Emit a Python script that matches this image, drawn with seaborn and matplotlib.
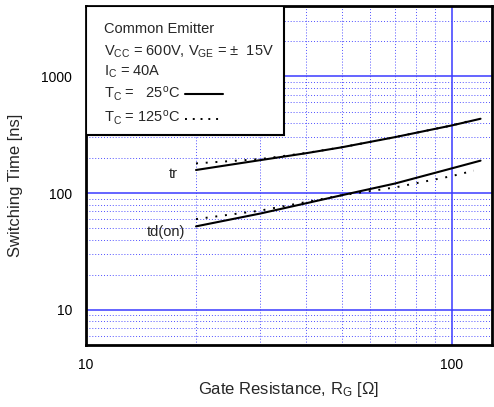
import numpy as np
import pandas as pd
import seaborn as sns
import matplotlib.pyplot as plt
from matplotlib.patches import Rectangle

# Data (gate resistance in ohm, times in ns)
rg_25 = [20, 30, 40, 50, 70, 100, 120]
tr_25 = [158, 192, 220, 247, 302, 380, 434]
td_25 = [52, 67, 82, 96, 121, 163, 190]

rg_125 = [20, 30, 40, 50, 70, 100, 115]
tr_125 = [180, 196, 221, 247, 302, 380, 425]
td_125 = [60, 71, 84, 96, 112, 140, 156]

sns.set_style("white")
plt.rcParams["font.family"] = ["Liberation Sans", "DejaVu Sans"]
plt.rcParams["mathtext.fontset"] = "custom"
plt.rcParams["mathtext.rm"] = "Liberation Sans"
plt.rcParams["mathtext.default"] = "regular"

df = pd.concat([
    pd.DataFrame({"Rg": rg_25, "t": tr_25, "curve": "tr 25"}),
    pd.DataFrame({"Rg": rg_25, "t": td_25, "curve": "td 25"}),
    pd.DataFrame({"Rg": rg_125, "t": tr_125, "curve": "tr 125"}),
    pd.DataFrame({"Rg": rg_125, "t": td_125, "curve": "td 125"}),
])

fig = plt.figure(figsize=(4.94, 4.07), dpi=100)
ax = fig.add_axes([0.174, 0.152, 0.822, 0.833])
ax.set_xscale("log")
ax.set_yscale("log")
ax.set_xlim(10, 129)
ax.set_ylim(5, 4000)

# grid: solid major, dotted minor
ax.grid(which="major", color="#3a3aff", linestyle="-", linewidth=1.1)
ax.grid(which="minor", color="#5050ff", linestyle=(0, (1, 2)), linewidth=0.7)
ax.set_axisbelow(True)

for c in ["tr 25", "td 25"]:
    sns.lineplot(data=df[df.curve == c], x="Rg", y="t", color="black",
                 linewidth=1.5, ax=ax, zorder=3)
for c in ["tr 125", "td 125"]:
    sns.lineplot(data=df[df.curve == c], x="Rg", y="t", color="black",
                 linewidth=1.4, linestyle=(0, (1, 4)), ax=ax, zorder=3)

ax.set_xticks([10, 100])
ax.set_xticklabels(["10", "100"])
ax.set_yticks([10, 100, 1000])
ax.set_yticklabels(["10", "100", "1000"])
ax.minorticks_on()
ax.tick_params(axis="both", which="both", direction="in", labelsize=10,
               length=3, colors="black")
ax.tick_params(axis="x", which="major", pad=9)
ax.tick_params(axis="y", which="major", pad=10)
ax.tick_params(which="minor", labelbottom=False, labelleft=False)

for s in ax.spines.values():
    s.set_color("black")
    s.set_linewidth(2)

ax.set_xlabel("Gate Resistance, R$_G$ [Ω]", fontsize=12)
ax.set_ylabel("Switching Time [ns]", fontsize=12)
ax.xaxis.set_label_coords(0.498, -0.104)
ax.yaxis.set_label_coords(-0.155, 0.47)

# curve labels
ax.text(0.215, 0.505, "tr", transform=ax.transAxes, fontsize=10.5, ha="center", va="center")
ax.text(0.198, 0.335, "td(on)", transform=ax.transAxes, fontsize=10.5, ha="center", va="center")

# condition box
ax.add_patch(Rectangle((0, 0.619), 0.488, 0.381, transform=ax.transAxes,
                       facecolor="white", edgecolor="black", linewidth=1.5, zorder=4))
tx = 0.044
fs = 10.5
ax.text(tx, 0.932, "Common Emitter", transform=ax.transAxes, fontsize=fs, va="center", zorder=5)
ax.text(tx, 0.864, "V$_{CC}$ = 600V, V$_{GE}$ = ±  15V", transform=ax.transAxes, fontsize=fs,
        va="center", zorder=5)
ax.text(tx, 0.806, "I$_C$ = 40A", transform=ax.transAxes, fontsize=fs, va="center", zorder=5)
ax.text(tx, 0.740, "T$_C$ =   25$^o$C", transform=ax.transAxes, fontsize=fs, va="center", zorder=5)
ax.text(tx, 0.672, "T$_C$ = 125$^o$C", transform=ax.transAxes, fontsize=fs, va="center", zorder=5)
ax.plot([0.244, 0.337], [0.742, 0.742], transform=ax.transAxes, color="black",
        linewidth=1.5, zorder=5)
ax.plot([0.244, 0.330], [0.668, 0.668], transform=ax.transAxes, color="black",
        linewidth=1.4, linestyle=(0, (1, 3)), zorder=5)

fig.savefig("out.png", dpi=100)
